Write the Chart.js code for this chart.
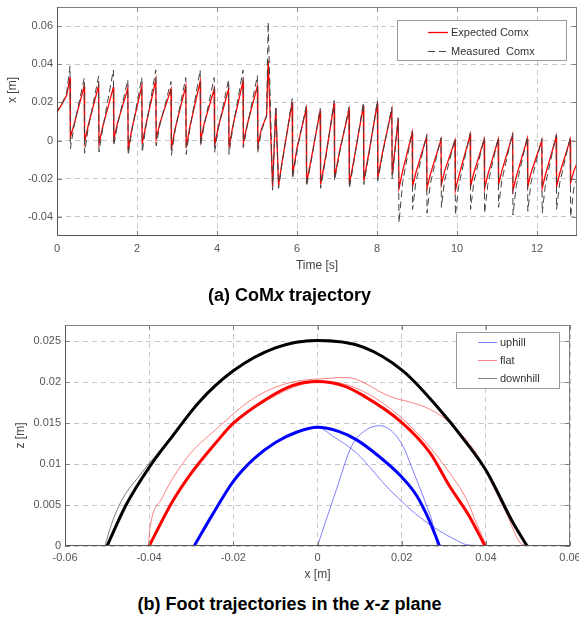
<!DOCTYPE html>
<html>
<head>
<meta charset="utf-8">
<title>CoMx and foot trajectories</title>
<script src="https://cdn.jsdelivr.net/npm/chart.js@4.4.1/dist/chart.umd.min.js"></script>
<style>
  body { margin: 0; background: #fff; width: 579px; height: 618px; position: relative; overflow: hidden;
         font-family: "Liberation Sans", Arial, sans-serif; }
  #comChart { position: absolute; left: 0; top: 0; }
  #footChart { position: absolute; left: 0; top: 300px; }
  .caption { position: absolute; left: 0; width: 579px; text-align: center; font-weight: bold;
             font-size: 18px; line-height: 20px; color: #000; }
</style>
</head>
<body>
<canvas id="comChart" width="579" height="280"></canvas>
<canvas id="footChart" width="579" height="285"></canvas>
<div class="caption" style="top:285px">(a) CoM<i>x</i> trajectory</div>
<div class="caption" style="top:594px">(b) Foot trajectories in the <i>x</i>-<i>z</i> plane</div>

<script>
// ---- (a) CoMx trajectory ----
const timeTicks = [0, 2, 4, 6, 8, 10, 12];
const comTicks = [-0.04, -0.02, 0, 0.02, 0.04, 0.06];

const timeS = [
  0, 0.005, 0.12, 0.24, 0.325,
  0.335, 0.42, 0.68,
  0.69, 0.78, 1.04,
  1.05, 1.14, 1.41,
  1.42, 1.51, 1.77,
  1.78, 1.87, 2.12,
  2.13, 2.22, 2.47,
  2.48, 2.57, 2.85,
  2.86, 2.95, 3.22,
  3.23, 3.32, 3.58,
  3.59, 3.68, 3.93,
  3.94, 4.03, 4.29,
  4.30, 4.39, 4.65,
  4.66, 4.75, 5.01,
  5.02, 5.11, 5.24, 5.28,
  5.39, 5.47, 5.54, 5.62, 5.88,
  5.89, 6.00, 6.23,
  6.24, 6.37, 6.58,
  6.59, 6.72, 6.93,
  6.94, 7.07, 7.30,
  7.31, 7.44, 7.66,
  7.67, 7.80, 8.01,
  8.02, 8.15, 8.37,
  8.38, 8.53,
  8.55, 8.64, 8.88,
  8.89, 8.97, 9.24,
  9.25, 9.33, 9.60,
  9.61, 9.69, 9.95,
  9.96, 10.04, 10.33,
  10.34, 10.42, 10.68,
  10.69, 10.77, 11.03,
  11.04, 11.12, 11.39,
  11.40, 11.48, 11.76,
  11.77, 11.85, 12.12,
  12.13, 12.21, 12.48,
  12.49, 12.57, 12.83,
  12.84, 12.92, 13.0
];

const expectedComx = [
  -0.008, 0.015, 0.019, 0.0236, 0.033,
  0.002, 0.008, 0.0285,
  -0.001, 0.0079, 0.0288,
  -0.0017, 0.007, 0.028,
  0.0007, 0.009, 0.0274,
  -0.005, 0.006, 0.0285,
  -0.0017, 0.008, 0.0318,
  0.0007, 0.009, 0.027,
  -0.0045, 0.006, 0.0285,
  -0.0036, 0.007, 0.031,
  0.0, 0.009, 0.027,
  -0.0028, 0.007, 0.027,
  -0.0036, 0.007, 0.031,
  -0.001, 0.008, 0.0285,
  -0.0028, 0.006, 0.013, 0.042,
  -0.024, 0.017, -0.0235, -0.012, 0.020,
  -0.018, -0.004, 0.0166,
  -0.022, -0.008, 0.0157,
  -0.023, -0.008, 0.0196,
  -0.0194, -0.005, 0.016,
  -0.023, -0.008, 0.0183,
  -0.021, -0.006, 0.0196,
  -0.0194, -0.005, 0.016,
  -0.018, 0.0114,
  -0.025, -0.016, 0.004,
  -0.024, -0.017, 0.002,
  -0.025, -0.018, 0.0005,
  -0.023, -0.016, 0.0,
  -0.026, -0.019, 0.003,
  -0.024, -0.017, 0.0005,
  -0.025, -0.018, 0.0005,
  -0.023, -0.016, 0.003,
  -0.026, -0.019, 0.001,
  -0.024, -0.017, 0.0,
  -0.025, -0.018, 0.002,
  -0.024, -0.017, 0.0005,
  -0.022, -0.016, -0.012
];

const measuredComx = [
  0.014, 0.016, 0.019, 0.025, 0.039,
  -0.0043, 0.007, 0.0327,
  -0.0066, 0.0065, 0.0337,
  -0.006, 0.006, 0.037,
  -0.0025, 0.008, 0.0318,
  -0.0077, 0.005, 0.033,
  -0.0062, 0.007, 0.037,
  -0.0028, 0.008, 0.031,
  -0.0077, 0.005, 0.033,
  -0.0072, 0.006, 0.037,
  -0.0028, 0.008, 0.033,
  -0.0062, 0.006, 0.032,
  -0.0072, 0.006, 0.037,
  -0.0036, 0.007, 0.034,
  -0.0062, 0.005, 0.013, 0.062,
  -0.026, 0.018, -0.025, -0.013, 0.022,
  -0.020, -0.005, 0.018,
  -0.024, -0.009, 0.017,
  -0.025, -0.009, 0.021,
  -0.021, -0.006, 0.0175,
  -0.025, -0.009, 0.020,
  -0.023, -0.007, 0.021,
  -0.021, -0.006, 0.0175,
  -0.020, 0.012,
  -0.043, -0.022, 0.005,
  -0.036, -0.022, 0.003,
  -0.038, -0.023, 0.0015,
  -0.035, -0.021, 0.001,
  -0.039, -0.024, 0.004,
  -0.036, -0.022, 0.0015,
  -0.038, -0.023, 0.0015,
  -0.035, -0.021, 0.004,
  -0.039, -0.024, 0.002,
  -0.037, -0.022, 0.001,
  -0.038, -0.023, 0.003,
  -0.036, -0.022, 0.0015,
  -0.040, -0.025, -0.020
];

// ---- (b) foot trajectories, [x, z] pairs ----
const footXTicks = [-0.06, -0.04, -0.02, 0, 0.02, 0.04, 0.06];
const footZTicks = [0, 0.005, 0.01, 0.015, 0.02, 0.025];

const uphillStepA = [[0, 0], [0.0045, 0.0069], [0.0081, 0.0122], [0.0116, 0.0142], [0.0148, 0.0147],
  [0.0175, 0.0141], [0.0203, 0.0122], [0.023, 0.0088], [0.0255, 0.0055], [0.0275, 0.0025], [0.0285, 0]];
const uphillStepB = [[-0.0293, 0], [-0.02, 0.0078], [-0.0098, 0.0127], [0, 0.0145], [0.0037, 0.0134],
  [0.0092, 0.0114], [0.0171, 0.0069], [0.0251, 0.0032], [0.033, 0.0007], [0.036, 0.0001], [0.05, 0]];
const flatStepA = [[-0.0402, 0], [-0.0398, 0.0022], [-0.037, 0.0058], [-0.031, 0.0108], [-0.024, 0.0143],
  [-0.015, 0.0181], [-0.007, 0.0199], [0.003, 0.0205], [0.0068, 0.0206], [0.0171, 0.0183], [0.0267, 0.0167],
  [0.0322, 0.0147], [0.0386, 0.0106], [0.0402, 0.0089], [0.0449, 0.004], [0.048, 0.0005], [0.05, 0]];
const flatStepB = [[-0.0398, 0], [-0.034, 0.0059], [-0.028, 0.0103], [-0.02, 0.0148], [-0.012, 0.0178],
  [-0.004, 0.0197], [0.002, 0.0201], [0.01, 0.0191], [0.018, 0.0165], [0.026, 0.0125], [0.031, 0.0092],
  [0.0354, 0.0057], [0.038, 0.0025], [0.0402, 0]];
const downhillStep = [[-0.0505, 0], [-0.049, 0.0026], [-0.0465, 0.0056], [-0.042, 0.0088], [-0.035, 0.0132],
  [-0.028, 0.0178], [-0.02, 0.0215], [-0.01, 0.0243], [0, 0.0252], [0.011, 0.0244], [0.02, 0.0215],
  [0.028, 0.0172], [0.035, 0.0128], [0.04, 0.0092], [0.0465, 0.0028], [0.05, 0]];

const uphillRef = [[-0.0293, 0], [-0.025, 0.0038], [-0.02, 0.0079], [-0.015, 0.0107], [-0.0098, 0.0127],
  [-0.005, 0.0139], [0, 0.0145], [0.005, 0.014], [0.0092, 0.013], [0.0145, 0.011], [0.0195, 0.0087],
  [0.0235, 0.0062], [0.0265, 0.0032], [0.029, 0]];
const flatRef = [[-0.04, 0], [-0.0345, 0.0054], [-0.03, 0.0089], [-0.024, 0.0127], [-0.02, 0.015],
  [-0.012, 0.018], [-0.006, 0.0196], [0, 0.0201], [0.006, 0.0196], [0.0108, 0.0184], [0.02, 0.0151],
  [0.0267, 0.0114], [0.0314, 0.0073], [0.036, 0.0037], [0.0398, 0]];
const downhillRef = [[-0.05, 0], [-0.0455, 0.005], [-0.04, 0.0096], [-0.0345, 0.0134], [-0.0281, 0.0176],
  [-0.02, 0.0214], [-0.01, 0.0242], [0, 0.0251], [0.0108, 0.0243], [0.0203, 0.0214], [0.0283, 0.0171],
  [0.0354, 0.0126], [0.0402, 0.0091], [0.0465, 0.0028], [0.0498, 0]];


Chart.defaults.font.family = '"Liberation Sans", Arial, sans-serif';
Chart.defaults.font.size = 11;
Chart.defaults.color = '#555';
Chart.defaults.animation = false;

const toPoints = (xs, ys) => xs.map((x, i) => ({ x: x, y: ys[i] }));
const pairs = list => list.map(p => ({ x: p[0], y: p[1] }));

// matlab-like box: frame, inward ticks, legend box, free y label
const matlabBox = {
  id: 'matlabBox',
  afterDraw(chart, args, opts) {
    const { ctx, chartArea: area, scales } = chart;
    ctx.save();
    ctx.setLineDash([]);
    ctx.lineWidth = 1;
    ctx.strokeStyle = '#808080';
    ctx.beginPath();
    scales.x.ticks.forEach(t => {
      const px = Math.round(scales.x.getPixelForValue(t.value)) + 0.5;
      ctx.moveTo(px, area.bottom); ctx.lineTo(px, area.bottom - 5);
      ctx.moveTo(px, area.top); ctx.lineTo(px, area.top + 5);
    });
    scales.y.ticks.forEach(t => {
      const py = Math.round(scales.y.getPixelForValue(t.value)) + 0.5;
      ctx.moveTo(area.left, py); ctx.lineTo(area.left + 5, py);
      ctx.moveTo(area.right, py); ctx.lineTo(area.right - 5, py);
    });
    ctx.stroke();
    ctx.strokeRect(area.left + 0.5, area.top + 0.5, area.width - 1, area.height - 1);
    // left and bottom axis a bit darker
    ctx.strokeStyle = '#555';
    ctx.beginPath();
    ctx.moveTo(area.left + 0.5, area.top);
    ctx.lineTo(area.left + 0.5, area.bottom - 0.5);
    ctx.lineTo(area.right, area.bottom - 0.5);
    ctx.stroke();

    const lg = opts.legend;
    ctx.fillStyle = '#fff';
    ctx.fillRect(lg.x, lg.y, lg.w, lg.h);
    ctx.strokeStyle = '#999';
    ctx.strokeRect(lg.x + 0.5, lg.y + 0.5, lg.w, lg.h);
    ctx.font = '11px "Liberation Sans", Arial, sans-serif';
    ctx.textBaseline = 'middle';
    ctx.textAlign = 'left';
    lg.items.forEach((idx, i) => {
      const ds = chart.data.datasets[idx];
      const yy = Math.round(lg.y + lg.firstRow + i * lg.rowGap) + 0.5;
      ctx.strokeStyle = ds.borderColor;
      ctx.lineWidth = ds.borderWidth;
      ctx.setLineDash(ds.borderDash || []);
      ctx.beginPath();
      ctx.moveTo(lg.lineX0, yy);
      ctx.lineTo(lg.lineX1, yy);
      ctx.stroke();
      ctx.setLineDash([]);
      ctx.fillStyle = '#333';
      ctx.fillText(ds.label, lg.textX, yy);
    });

    if (opts.yTitle) {
      ctx.translate(opts.yTitle.x, opts.yTitle.y);
      ctx.rotate(-Math.PI / 2);
      ctx.textAlign = 'center';
      ctx.font = '12px "Liberation Sans", Arial, sans-serif';
      ctx.fillStyle = '#444';
      ctx.fillText(opts.yTitle.text, 0, 0);
    }
    ctx.restore();
  }
};

const gridStyle = { color: '#c6c6c6', lineWidth: 1, drawTicks: false, borderDash: [5, 4] };
const borderStyle = { display: false, dash: [5, 4] };

// top chart
new Chart(document.getElementById('comChart'), {
  type: 'line',
  data: {
    datasets: [
      {
        label: 'Expected Comx',
        data: toPoints(timeS, expectedComx),
        borderColor: '#ff0000',
        borderWidth: 1.3,
        pointRadius: 0,
        tension: 0,
        order: 1
      },
      {
        label: 'Measured  Comx',
        data: toPoints(timeS, measuredComx),
        borderColor: '#444',
        borderWidth: 1,
        borderDash: [7, 4],
        pointRadius: 0,
        tension: 0,
        order: 0
      }
    ]
  },
  options: {
    responsive: false,
    devicePixelRatio: 1,
    layout: { padding: { left: 0, top: 7, right: 2, bottom: 0 } },
    plugins: {
      legend: { display: false },
      tooltip: { enabled: false },
      matlabBox: {
        legend: { x: 397, y: 20, w: 169, h: 40, firstRow: 12.3, rowGap: 18.4,
                  lineX0: 428, lineX1: 448, textX: 451, items: [0, 1] },
        yTitle: { text: 'x [m]', x: 13, y: 90 }
      }
    },
    scales: {
      x: {
        type: 'linear', min: 0, max: 13,
        afterBuildTicks: s => { s.ticks = timeTicks.map(v => ({ value: v })); },
        afterFit: s => { s.height = 44; s.paddingLeft = 0; s.paddingRight = 0; },
        ticks: { padding: 6, maxRotation: 0, autoSkip: false, callback: v => String(v) },
        grid: gridStyle,
        border: borderStyle,
        title: { display: true, text: 'Time [s]', color: '#444', font: { size: 12 }, padding: { top: 0, bottom: 7 } }
      },
      y: {
        type: 'linear', min: -0.05, max: 0.07,
        afterBuildTicks: s => { s.ticks = comTicks.map(v => ({ value: v })); },
        afterFit: s => { s.width = 57; s.paddingTop = 0; s.paddingBottom = 0; },
        ticks: { padding: 4, autoSkip: false, callback: v => String(v) },
        grid: gridStyle,
        border: borderStyle
      }
    }
  },
  plugins: [matlabBox]
});

// bottom chart
const thin = (label, pts, color) => ({
  label: label, data: pairs(pts), borderColor: color, borderWidth: 1,
  pointRadius: 0, cubicInterpolationMode: 'monotone', order: 1
});
const thick = (pts, color) => ({
  label: '', data: pairs(pts), borderColor: color, borderWidth: 3,
  pointRadius: 0, cubicInterpolationMode: 'monotone', order: 0
});

new Chart(document.getElementById('footChart'), {
  type: 'line',
  data: {
    datasets: [
      thin('uphill', uphillStepA, 'rgba(60,60,255,0.65)'),
      thin('uphill', uphillStepB, 'rgba(60,60,255,0.65)'),
      thin('flat', flatStepA, 'rgba(255,60,60,0.65)'),
      thin('flat', flatStepB, 'rgba(255,60,60,0.65)'),
      thin('downhill', downhillStep, 'rgba(40,40,40,0.6)'),
      thick(uphillRef, '#0000ff'),
      thick(flatRef, '#ff0000'),
      thick(downhillRef, '#000000')
    ]
  },
  options: {
    responsive: false,
    devicePixelRatio: 1,
    layout: { padding: { left: 0, top: 25, right: 9, bottom: 0 } },
    plugins: {
      legend: { display: false },
      tooltip: { enabled: false },
      matlabBox: {
        legend: { x: 456, y: 32, w: 103, h: 56, firstRow: 10.3, rowGap: 18,
                  lineX0: 478, lineX1: 497, textX: 500, items: [0, 2, 4] }
      }
    },
    scales: {
      x: {
        type: 'linear', min: -0.06, max: 0.06,
        afterBuildTicks: s => { s.ticks = footXTicks.map(v => ({ value: v })); },
        afterFit: s => { s.height = 39; s.paddingLeft = 0; s.paddingRight = 0; },
        ticks: { padding: 5, maxRotation: 0, autoSkip: false, callback: v => String(v) },
        grid: gridStyle,
        border: borderStyle,
        title: { display: true, text: 'x [m]', color: '#444', font: { size: 12 }, padding: { top: 0, bottom: 3 } }
      },
      y: {
        type: 'linear', min: 0, max: 0.027,
        afterBuildTicks: s => { s.ticks = footZTicks.map(v => ({ value: v })); },
        afterFit: s => { s.width = 65; s.paddingTop = 0; s.paddingBottom = 0; },
        ticks: { padding: 4, autoSkip: false, callback: v => String(v) },
        grid: gridStyle,
        border: borderStyle,
        title: { display: true, text: 'z [m]', color: '#444', font: { size: 12 }, padding: { top: 13, bottom: 0 } }
      }
    }
  },
  plugins: [matlabBox]
});
</script>
</body>
</html>
